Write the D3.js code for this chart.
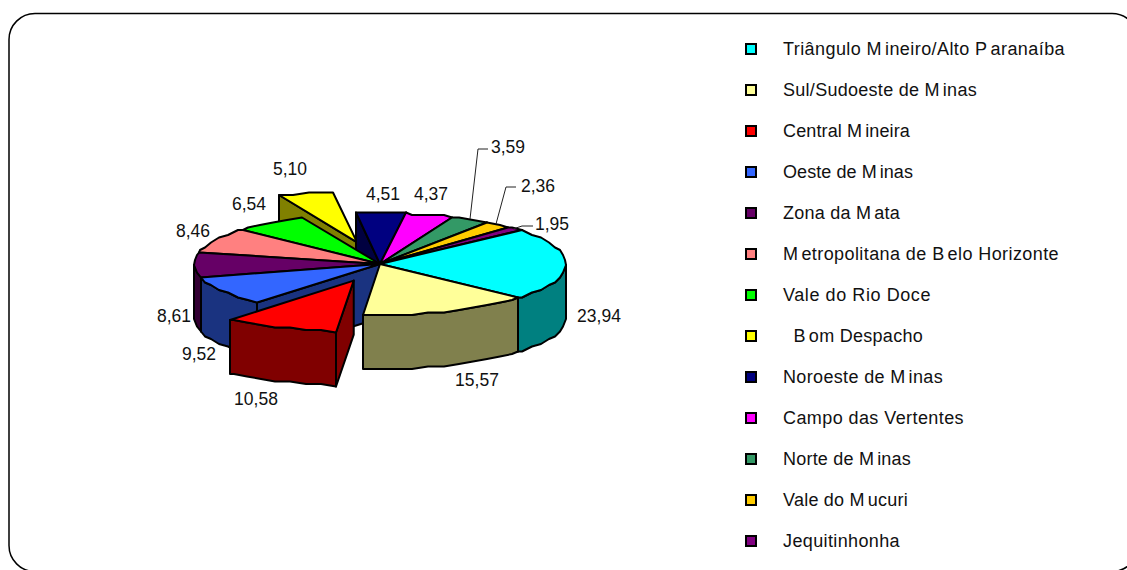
<!DOCTYPE html>
<html>
<head>
<meta charset="utf-8">
<script src="https://cdn.jsdelivr.net/npm/d3@7/dist/d3.min.js"></script>
<style>
  html, body { margin: 0; padding: 0; background: #fff; overflow: hidden; }
  text { font-family: "Liberation Sans", Arial, sans-serif; fill: #111; white-space: pre; }
</style>
</head>
<body>
<svg id="chart" width="1127" height="570"></svg>
<script>
const regions = [
  'Triângulo Mineiro/Alto Paranaíba', 'Sul/Sudoeste de Minas', 'Central Mineira',
  'Oeste de Minas', 'Zona da Mata', 'Metropolitana de Belo Horizonte',
  'Vale do Rio Doce', '  Bom Despacho', 'Noroeste de Minas',
  'Campo das Vertentes', 'Norte de Minas', 'Vale do Mucuri', 'Jequitinhonha',
];
const shares = [23.94, 15.57, 10.58, 9.52, 8.61, 8.46, 6.54, 5.10, 4.51, 4.37, 3.59, 2.36, 1.95];
const topColors = ['#00ffff', '#ffff99', '#ff0000', '#3366ff', '#660066', '#ff8080',
  '#00ff00', '#ffff00', '#000080', '#ff00ff', '#339966', '#ffcc00', '#800080'];

// legend text comes out wide and unevenly spaced in the original, these are its run widths
const legendWidths = [282, 194, 127, 130, 117, 276, 148, 140, 160, 181, 128, 125, 117];

// pulled-out slices, distance along the slice's mid angle
const pulled = { 2: 66, 7: 82 };

// label centres, the old chart placed these by hand
const labelPos = [[599, 316], [477, 380], [256, 399], [199, 354], [174, 316], [193, 231],
  [249, 204], [290, 169], [383, 194], [431, 194], [508, 147], [538, 186], [552, 224]];
const leaders = { 10: [[470, 219], [478, 149], [488, 149]],
                  11: [[496, 224], [506, 187], [516, 187]],
                  12: [[513, 229], [522, 226], [533, 226]] };

const cx = 380, cy = 264, rx = 186, ry = 51, depth = 54;
const deg = Math.PI / 180;

const svg = d3.select('#chart');

// rounded frame, runs off the right and bottom of the image
svg.append('rect')
  .attr('x', 9).attr('y', 13.5).attr('width', 1129).attr('height', 558).attr('rx', 26)
  .attr('fill', '#fff').attr('stroke', '#000').attr('stroke-width', 1.5);

const pie = d3.pie().sort(null).startAngle(50 * deg).endAngle(410 * deg);
const arcs = pie(shares);

const path = d3.line().curve(d3.curveLinearClosed);

// the rim of the original is a coarse polygon, so snap the points to a grid
const snap = (v, g) => Math.round(v / g) * g;

function rimAngles(a0, a1) {
  const step = 5 * deg, out = [a0];
  for (let a = Math.ceil(a0 / step + 0.2) * step; a < a1 - step * 0.2; a += step) out.push(a);
  out.push(a1);
  return out;
}

const slices = arcs.map((a, i) => {
  const mid = (a.startAngle + a.endAngle) / 2;
  const e = pulled[i] || 0;
  const ox = e * Math.sin(mid), oy = -e * Math.cos(mid) * ry / rx;
  return { a, i, mid, ox, oy, order: -Math.cos(mid) * ry + oy };
}).sort((p, q) => p.order - q.order);

const pieG = svg.append('g')
  .attr('stroke', '#000').attr('stroke-width', 2).attr('stroke-linejoin', 'round');

slices.forEach(s => {
  const { a, i, ox, oy } = s;
  const c = d3.rgb(topColors[i]);
  const side = d3.rgb(c.r / 2, c.g / 2, c.b / 2).formatHex();
  const apex = [cx + ox, cy + oy];
  const pt = t => [snap(apex[0] + rx * Math.sin(t), 1), snap(apex[1] - ry * Math.cos(t), 2.5)];
  const drop = p => [p[0], p[1] + depth];

  // cut faces that look towards the viewer
  [[a.startAngle, Math.sin(a.startAngle) < 0], [a.endAngle, Math.sin(a.endAngle) > 0]]
    .filter(d => d[1])
    .forEach(([t]) => {
      const p = pt(t);
      pieG.append('path')
        .attr('d', path([apex, p, drop(p), drop(apex)]))
        .attr('fill', side);
    });

  // outer wall, front half only
  const lo = Math.max(a.startAngle, 90 * deg), hi = Math.min(a.endAngle, 270 * deg);
  if (lo < hi) {
    const rim = rimAngles(lo, hi).map(pt);
    pieG.append('path')
      .attr('d', path(rim.concat(rim.slice().reverse().map(drop))))
      .attr('fill', side);
  }

  pieG.append('path')
    .attr('d', path([apex].concat(rimAngles(a.startAngle, a.endAngle).map(pt))))
    .attr('fill', topColors[i]);
});

// value labels
svg.append('g').selectAll('text')
  .data(shares)
  .join('text')
  .attr('x', (d, i) => labelPos[i][0])
  .attr('y', (d, i) => labelPos[i][1])
  .attr('dy', '0.36em')
  .attr('text-anchor', 'middle')
  .attr('font-size', 17.5)
  .text(d => d.toFixed(2).replace('.', ','));

svg.append('g').selectAll('path')
  .data(Object.values(leaders))
  .join('path')
  .attr('d', d3.line())
  .attr('fill', 'none').attr('stroke', '#222').attr('stroke-width', 1);

// legend
const legendY = d3.scalePoint().domain(regions).range([49, 541]);
const legend = svg.append('g').selectAll('g')
  .data(regions)
  .join('g')
  .attr('transform', d => `translate(0,${legendY(d)})`);

legend.append('rect')
  .attr('x', 746).attr('y', -5).attr('width', 10).attr('height', 10)
  .attr('fill', (d, i) => topColors[i])
  .attr('stroke', '#000').attr('stroke-width', 2);

// gap after M, P and B as in the original, then letter-spacing takes up the rest
legend.append('text')
  .attr('x', 783)
  .attr('dy', '0.36em')
  .attr('font-size', 18)
  .each(function (d, i) {
    const t = d3.select(this);
    d.split(/(?<=[MPB])/).forEach((part, j) => {
      t.append('tspan').attr('dx', j ? 3 : 0).text(part);
    });
    const gaps = d.split(/(?<=[MPB])/).length - 1;
    const spare = legendWidths[i] - this.getComputedTextLength() - gaps * 3;
    t.style('letter-spacing', `${spare / d.length}px`);
  });
</script>
</body>
</html>
